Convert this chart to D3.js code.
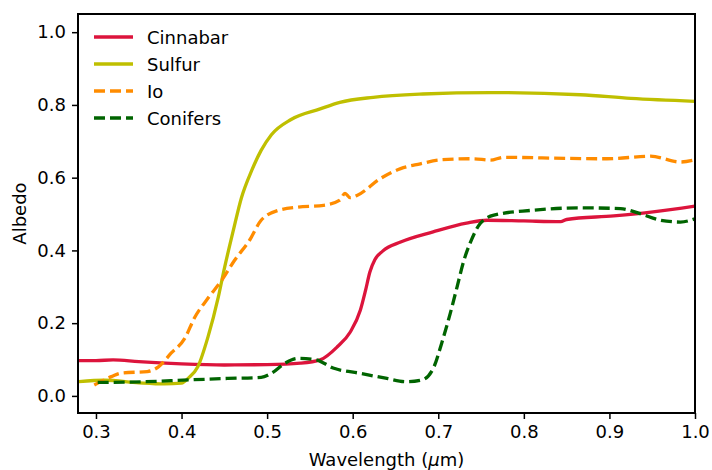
<!DOCTYPE html>
<html lang="en">
<head>
	<meta charset="UTF-8">
	<title>albedo spectra</title>
	<script src="https://d3js.org/d3.v7.min.js"></script>
	<style type="text/css">
		body { margin: 0; background: #fff; }
		text { font-family: "DejaVu Sans", sans-serif; fill: #000; }
		.axis path, .axis line { stroke: #000; }
	</style>
</head>
<body>
<script type="text/javascript">

	// wavelength (um) and albedo
	var cinnabarX = [0.28, 0.30, 0.32, 0.35, 0.40, 0.45, 0.50, 0.539, 0.562, 0.582, 0.597, 0.609, 0.615, 0.620, 0.626, 0.635, 0.656, 0.694, 0.733, 0.757, 0.80, 0.843, 0.850, 0.905, 0.951, 1.0];
	var cinnabarY = [0.097, 0.097, 0.099, 0.094, 0.088, 0.085, 0.086, 0.090, 0.099, 0.135, 0.175, 0.236, 0.290, 0.340, 0.375, 0.398, 0.423, 0.451, 0.475, 0.483, 0.481, 0.479, 0.485, 0.495, 0.506, 0.522];

	var sulfurX = [0.28, 0.31, 0.35, 0.38, 0.40, 0.408, 0.419, 0.431, 0.443, 0.450, 0.460, 0.470, 0.482, 0.493, 0.505, 0.528, 0.562, 0.585, 0.624, 0.682, 0.761, 0.866, 0.925, 1.0];
	var sulfurY = [0.039, 0.043, 0.036, 0.033, 0.035, 0.049, 0.080, 0.163, 0.272, 0.350, 0.450, 0.545, 0.620, 0.675, 0.718, 0.760, 0.789, 0.807, 0.821, 0.830, 0.834, 0.828, 0.818, 0.810];

	var ioX = [0.298, 0.318, 0.330, 0.360, 0.373, 0.388, 0.404, 0.415, 0.431, 0.447, 0.462, 0.480, 0.493, 0.513, 0.536, 0.566, 0.585, 0.591, 0.597, 0.605, 0.632, 0.656, 0.679, 0.702, 0.741, 0.761, 0.776, 0.850, 0.897, 0.948, 0.983, 1.0];
	var ioY = [0.030, 0.053, 0.063, 0.067, 0.080, 0.118, 0.159, 0.214, 0.269, 0.318, 0.373, 0.430, 0.483, 0.510, 0.519, 0.524, 0.538, 0.557, 0.545, 0.551, 0.597, 0.625, 0.638, 0.649, 0.652, 0.648, 0.656, 0.653, 0.652, 0.659, 0.643, 0.649];

	var conifersX = [0.302, 0.357, 0.408, 0.454, 0.493, 0.505, 0.521, 0.536, 0.556, 0.578, 0.609, 0.640, 0.663, 0.681, 0.695, 0.704, 0.714, 0.722, 0.730, 0.737, 0.749, 0.765, 0.808, 0.866, 0.913, 0.936, 0.960, 0.983, 1.0];
	var conifersY = [0.037, 0.039, 0.044, 0.048, 0.051, 0.062, 0.090, 0.103, 0.100, 0.076, 0.062, 0.048, 0.039, 0.044, 0.080, 0.145, 0.227, 0.300, 0.373, 0.419, 0.474, 0.497, 0.510, 0.517, 0.515, 0.501, 0.483, 0.478, 0.487];

	var names = ['Cinnabar', 'Sulfur', 'Io', 'Conifers'];
	var xTicks = [0.3, 0.4, 0.5, 0.6, 0.7, 0.8, 0.9, 1.0];
	var yTicks = [0.0, 0.2, 0.4, 0.6, 0.8, 1.0];

	window.onload = function () {

		var margin = {top: 14, left: 78, bottom: 57, right: 17};
		var width = 712 - margin.left - margin.right;
		var height = 470 - margin.top - margin.bottom;

		var svg = d3.select('body').append('svg')
			.attr('width', 712)
			.attr('height', 470)
			.append('g')
			.attr('transform', 'translate(' + margin.left + ',' + margin.top + ')');

		var x = d3.scaleLinear()
			.range([0, width])
			.domain([0.279, 1.0]);

		var y = d3.scaleLinear()
			.range([height, 0])
			.domain([-0.047, 1.05]);

		var series = [
			{name: names[0], xs: cinnabarX, ys: cinnabarY, color: '#dc143c', dash: null},
			{name: names[1], xs: sulfurX, ys: sulfurY, color: '#bfbf00', dash: null},
			{name: names[2], xs: ioX, ys: ioY, color: '#ff8c00', dash: '11,5'},
			{name: names[3], xs: conifersX, ys: conifersY, color: '#006400', dash: '11,5'}
		];

		svg.append('clipPath')
			.attr('id', 'clip')
			.append('rect')
			.attr('width', width)
			.attr('height', height);

		var line = d3.line()
			.curve(d3.curveMonotoneX)
			.x(function (d) { return x(d[0]); })
			.y(function (d) { return y(d[1]); });

		svg.append('g')
			.attr('clip-path', 'url(#clip)')
			.selectAll('.spec')
			.data(series)
			.enter().append('path')
			.attr('class', 'spec')
			.attr('d', function (s) {
				return line(s.xs.map(function (v, i) { return [v, s.ys[i]]; }));
			})
			.style('fill', 'none')
			.style('stroke', function (s) { return s.color; })
			.style('stroke-width', 3.3)
			.style('stroke-dasharray', function (s) { return s.dash; });

		//draw axis
		svg.append('g')
			.attr('class', 'axis')
			.attr('transform', 'translate(0,' + height + ')')
			.call(d3.axisBottom(x).tickValues(xTicks).tickSize(6).tickPadding(6).tickFormat(d3.format('.1f')));

		svg.append('g')
			.attr('class', 'axis')
			.call(d3.axisLeft(y).tickValues(yTicks).tickSize(6).tickPadding(6).tickFormat(d3.format('.1f')));

		svg.selectAll('.axis text').style('font-size', '18px');
		svg.selectAll('.axis .tick line').style('stroke-width', 1.5);
		svg.selectAll('.axis path.domain').remove();

		// frame
		svg.append('rect')
			.attr('width', width)
			.attr('height', height)
			.style('fill', 'none')
			.style('stroke', '#000')
			.style('stroke-width', 2);

		//labelling
		var xl = svg.append('text')
			.attr('x', width / 2)
			.attr('y', height + 53)
			.style('text-anchor', 'middle')
			.style('font-size', '18px');
		xl.append('tspan').text('Wavelength (');
		xl.append('tspan').style('font-style', 'italic').text('\u03bc');
		xl.append('tspan').text('m)');

		svg.append('text')
			.attr('transform', 'rotate(-90)')
			.attr('y', -52)
			.attr('x', -height / 2)
			.style('text-anchor', 'middle')
			.style('font-size', '18px')
			.text('Albedo');

		// Legend //
		var legend = svg.append('g')
			.attr('transform', 'translate(16,23)')
			.selectAll('.info')
			.data(series)
			.enter().append('g')
			.attr('class', 'info')
			.attr('transform', function (d, i) {
				return 'translate(0,' + (i * 27) + ')';
			});
		legend.append('line')
			.attr('x1', 0)
			.attr('x2', 39)
			.style('stroke', function (d) { return d.color; })
			.style('stroke-width', 3.3)
			.style('stroke-dasharray', function (d) { return d.dash; });
		legend.append('text')
			.attr('x', 53)
			.attr('y', 6.5)
			.style('font-size', '18px')
			.text(function (d) { return d.name; });
	};

</script>
</body>
</html>
